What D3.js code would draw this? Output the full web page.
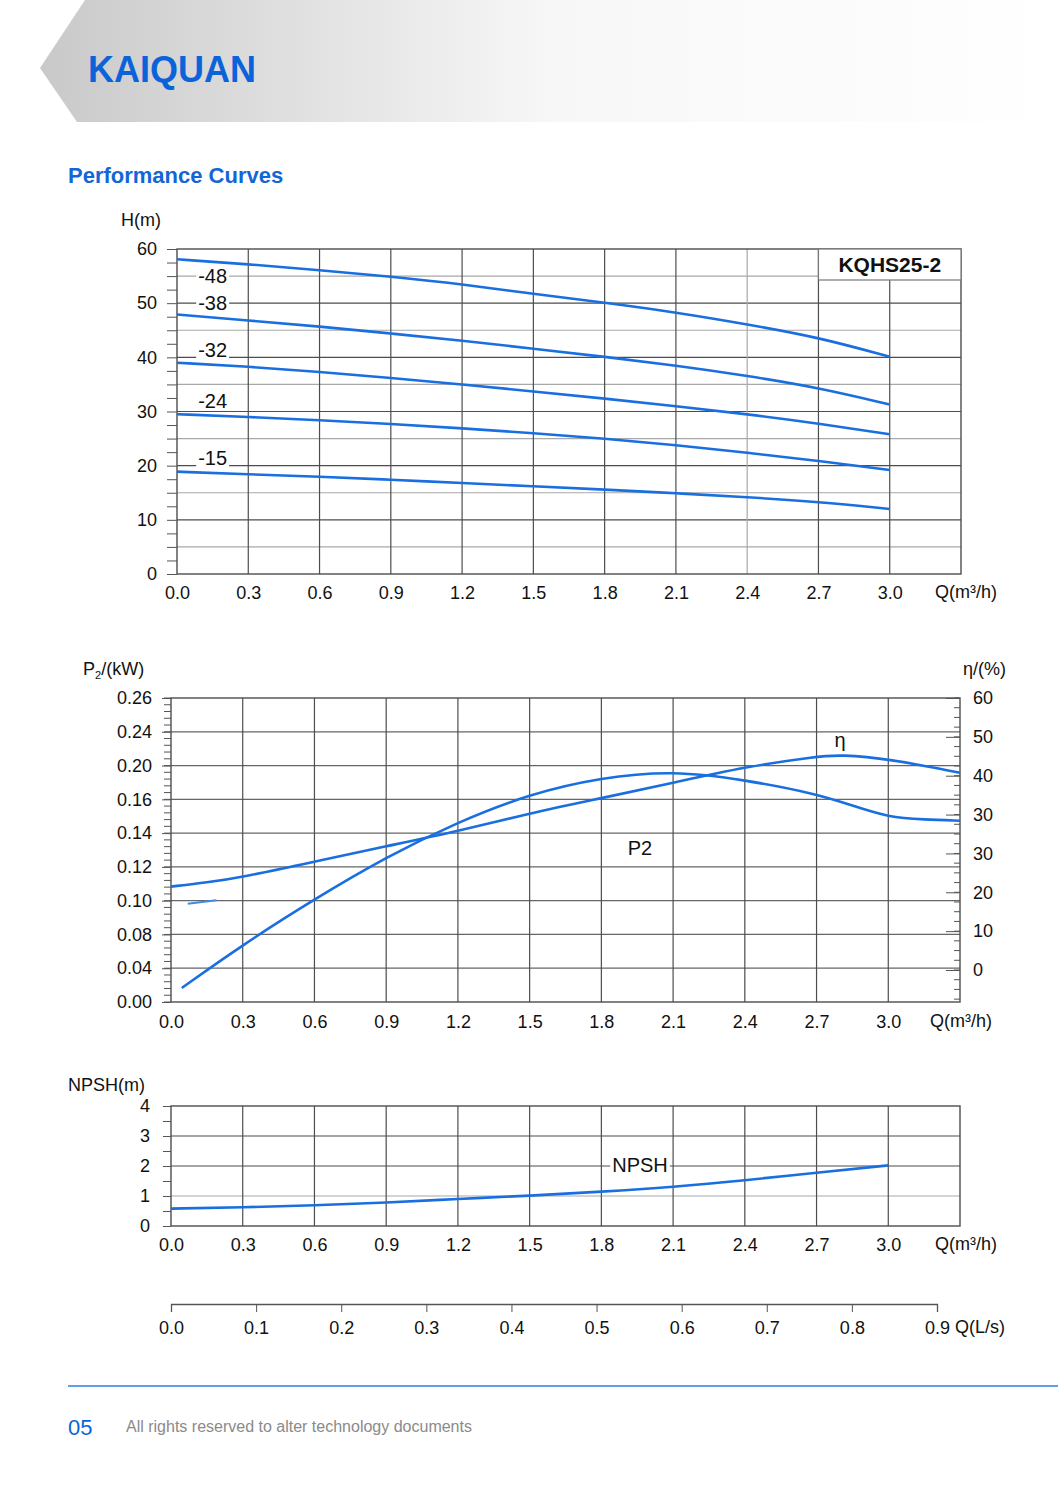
<!DOCTYPE html>
<html>
<head>
<meta charset="utf-8">
<script src="https://cdn.jsdelivr.net/npm/d3@7"></script>
<style>
  body { margin: 0; background: #fff; }
  svg { display: block; }
  text { font-family: "Liberation Sans", Arial, sans-serif; fill: #111; }
</style>
</head>
<body>
<div id="page"></div>
<script>
// flow values on the Q axis (m3/h)
const flowTicks = [0, 0.3, 0.6, 0.9, 1.2, 1.5, 1.8, 2.1, 2.4, 2.7, 3.0];

// head curves H(Q), one per stage count
const headQ = [0, 0.3, 0.6, 0.9, 1.2, 1.5, 1.8, 2.1, 2.4, 2.7, 3.0];
const head48 = [58.1, 57.2, 56.1, 54.9, 53.5, 51.7, 50.1, 48.3, 46.1, 43.7, 40.1];
const head38 = [47.9, 46.8, 45.7, 44.4, 43.1, 41.6, 40.1, 38.5, 36.6, 34.4, 31.3];
const head32 = [39.0, 38.3, 37.3, 36.2, 35.0, 33.7, 32.4, 31.0, 29.5, 27.8, 25.8];
const head24 = [29.5, 29.0, 28.4, 27.7, 26.9, 26.0, 25.0, 23.8, 22.4, 20.9, 19.2];
const head15 = [18.9, 18.4, 18.0, 17.4, 16.8, 16.2, 15.6, 14.9, 14.2, 13.3, 12.0];
const stageLabels = ["-48", "-38", "-32", "-24", "-15"];
const headTicks = [0, 10, 20, 30, 40, 50, 60];
const modelName = "KQHS25-2";

// power / efficiency
const etaQ = [0, 0.15, 0.3, 0.6, 0.9, 1.2, 1.5, 1.8, 2.1, 2.4, 2.7, 2.8, 3.0, 3.3];
const etaValues = [18.4, 19.3, 20.5, 23.9, 27.3, 30.6, 34.6, 37.9, 41.3, 44.8, 47.1, 47.5, 46.6, 43.5];
const p2Q = [0.045, 0.3, 0.6, 0.9, 1.2, 1.5, 1.8, 2.1, 2.4, 2.7, 2.85, 3.0, 3.15, 3.3];
const p2Values = [0.012, 0.049, 0.088, 0.124, 0.154, 0.178, 0.192, 0.198, 0.190, 0.178, 0.168, 0.158, 0.156, 0.155];
const p2StubQ = [0.07, 0.19];
const p2StubValues = [0.084, 0.087];
const p2TickLabels = ["0.00", "0.04", "0.08", "0.10", "0.12", "0.14", "0.16", "0.20", "0.24", "0.26"];
const etaTickLabels = ["0", "10", "20", "30", "30", "40", "50", "60"];

// NPSH
const npshQ = [0, 0.3, 0.6, 0.9, 1.2, 1.5, 1.8, 2.1, 2.4, 2.7, 3.0];
const npshValues = [0.58, 0.62, 0.69, 0.78, 0.90, 1.01, 1.14, 1.30, 1.52, 1.78, 2.02];
const npshTicks = [0, 1, 2, 3, 4];

// flow in L/s
const litreTicks = [0, 0.1, 0.2, 0.3, 0.4, 0.5, 0.6, 0.7, 0.8, 0.9];

const W = 1058, H = 1487;
const blue = "#1a6fe0";
const gridDark = "#4d4d4d";
const gridLight = "#a8a8a8";

const svg = d3.select("#page").append("svg").attr("width", W).attr("height", H);
svg.append("rect").attr("width", W).attr("height", H).attr("fill", "#fff");

// ---- header band
const grad = svg.append("defs").append("linearGradient").attr("id", "band").attr("x1", "0").attr("x2", "1");
grad.append("stop").attr("offset", "0").attr("stop-color", "#c9c9c9");
grad.append("stop").attr("offset", "0.25").attr("stop-color", "#e0e0e0");
grad.append("stop").attr("offset", "0.5").attr("stop-color", "#f7f7f7");
grad.append("stop").attr("offset", "1").attr("stop-color", "#ffffff");
svg.append("path").attr("d", "M85,0 L1058,0 L1058,122 L77,122 L40,68 Z").attr("fill", "url(#band)");
svg.append("text").attr("x", 88).attr("y", 82).attr("font-size", 36).attr("font-weight", "bold")
  .style("fill", "#0b63d9").text("KAIQUAN");
svg.append("text").attr("x", 68).attr("y", 183).attr("font-size", 22).attr("font-weight", "bold")
  .style("fill", "#1366d6").text("Performance Curves");

function styleAxis(g, size) {
  g.select(".domain").remove();
  g.selectAll("line").attr("stroke", "#555");
  g.selectAll("text").attr("font-size", size).attr("font-family", null).style("fill", "#111");
}

function labelWithBox(g, x, y, txt, size, weight) {
  const t = g.append("text").attr("x", x).attr("y", y).attr("text-anchor", "middle")
    .attr("font-size", size).attr("font-weight", weight || "normal").text(txt);
  const b = t.node().getBBox();
  g.insert("rect", () => t.node()).attr("x", b.x - 2).attr("y", b.y + 1).attr("width", b.width + 4)
    .attr("height", b.height - 2).attr("fill", "#fff");
  return t;
}

// ---- head chart
const hx = d3.scaleLinear().domain([0, 3.3]).range([177, 961]);
const hy = d3.scaleLinear().domain([0, 60]).range([574, 249]);
const hg = svg.append("g");

hg.selectAll("line.hgrid").data(d3.range(5, 60, 5)).join("line")
  .attr("x1", hx(0)).attr("x2", hx(3.3)).attr("y1", d => hy(d)).attr("y2", d => hy(d))
  .attr("stroke", d => d % 10 === 0 ? gridDark : gridLight).attr("stroke-width", 1.2);
hg.selectAll("line.vgrid").data(flowTicks.slice(1)).join("line")
  .attr("x1", d => hx(d)).attr("x2", d => hx(d)).attr("y1", hy(0)).attr("y2", hy(60))
  .attr("stroke", (d, i) => i === 7 ? gridLight : gridDark).attr("stroke-width", 1.2);
hg.append("rect").attr("x", hx(0)).attr("y", hy(60)).attr("width", hx(3.3) - hx(0)).attr("height", hy(0) - hy(60))
  .attr("fill", "none").attr("stroke", gridDark).attr("stroke-width", 1.4);

hg.append("g").attr("transform", `translate(${hx(0)},0)`)
  .call(d3.axisLeft(hy).tickValues(d3.range(0, 60.1, 2.5)).tickSize(10).tickPadding(10)
    .tickFormat(d => headTicks.includes(d) ? d : ""))
  .call(g => styleAxis(g, 18));
hg.append("g").attr("transform", `translate(0,${hy(0)})`)
  .call(d3.axisBottom(hx).tickValues(flowTicks).tickSize(0).tickPadding(12).tickFormat(d3.format(".1f")))
  .call(g => styleAxis(g, 18));
hg.append("text").attr("x", 141).attr("y", 226).attr("text-anchor", "middle").attr("font-size", 18).text("H(m)");
hg.append("text").attr("x", 935).attr("y", 598).attr("font-size", 18).text("Q(m³/h)");

// model box
hg.append("rect").attr("x", hx(2.7)).attr("y", hy(60)).attr("width", hx(3.3) - hx(2.7)).attr("height", 31)
  .attr("fill", "#fff").attr("stroke", "#777").attr("stroke-width", 1.2);
hg.append("text").attr("x", (hx(2.7) + hx(3.3)) / 2).attr("y", hy(60) + 23).attr("text-anchor", "middle")
  .attr("font-size", 21).attr("font-weight", "bold").text(modelName);

const headSeries = [head48, head38, head32, head24, head15];
const headLine = d3.line().x((d, i) => hx(headQ[i])).y(d => hy(d)).curve(d3.curveBasis);
hg.selectAll("path.head").data(headSeries).join("path")
  .attr("d", headLine).attr("fill", "none").attr("stroke", blue).attr("stroke-width", 2.6);
headSeries.forEach((s, i) => {
  const yAt = hy(d3.mean(s.slice(0, 2)));
  labelWithBox(hg, hx(0.15), i === 0 ? yAt + 21 : yAt - 8, stageLabels[i], 20);
});

// ---- power / efficiency chart
const mx = d3.scaleLinear().domain([0, 3.3]).range([171, 960]);
const my = d3.scaleLinear().domain([0, 0.26]).range([1002, 698]);
const ey = d3.scaleLinear().domain([0, 60]).range([970, 698]);
const pLab = d3.scalePoint().domain(d3.range(p2TickLabels.length)).range([my(0), my(0.26)]);
const eLab = d3.scalePoint().domain(d3.range(etaTickLabels.length)).range([ey(0), ey(60)]);
const mg = svg.append("g");

mg.selectAll("line.hgrid").data(d3.range(1, p2TickLabels.length - 1)).join("line")
  .attr("x1", mx(0)).attr("x2", mx(3.3)).attr("y1", d => pLab(d)).attr("y2", d => pLab(d))
  .attr("stroke", "#666").attr("stroke-width", 1.2);
mg.selectAll("line.vgrid").data(flowTicks.slice(1)).join("line")
  .attr("x1", d => mx(d)).attr("x2", d => mx(d)).attr("y1", my(0)).attr("y2", my(0.26))
  .attr("stroke", gridDark).attr("stroke-width", 1.2);
mg.append("rect").attr("x", mx(0)).attr("y", my(0.26)).attr("width", mx(3.3) - mx(0)).attr("height", my(0) - my(0.26))
  .attr("fill", "none").attr("stroke", gridDark).attr("stroke-width", 1.4);

// left axis: labelled ticks plus five-way minor ticks
const pStep = pLab.step();
mg.selectAll("line.pminor").data(d3.range(0, (p2TickLabels.length - 1) * 5 + 1)).join("line")
  .attr("x1", mx(0) - 7).attr("x2", mx(0)).attr("y1", d => my(0) - d * pStep / 5).attr("y2", d => my(0) - d * pStep / 5)
  .attr("stroke", "#555");
mg.append("g").attr("transform", `translate(${mx(0)},0)`)
  .call(d3.axisLeft(pLab).tickSize(9).tickPadding(10).tickFormat(i => p2TickLabels[i]))
  .call(g => styleAxis(g, 18));

// right axis: ticks drawn inward
const eStep = eLab.step();
mg.selectAll("line.eminor").data(d3.range(-3, (etaTickLabels.length - 1) * 4 + 1)).join("line")
  .attr("x1", mx(3.3) - 6).attr("x2", mx(3.3)).attr("y1", d => ey(0) - d * eStep / 4).attr("y2", d => ey(0) - d * eStep / 4)
  .attr("stroke", "#555");
mg.append("g").attr("transform", `translate(${mx(3.3)},0)`)
  .call(d3.axisRight(eLab).tickSize(-14).tickPadding(13).tickFormat(i => etaTickLabels[i]))
  .call(g => styleAxis(g, 18));

mg.append("g").attr("transform", `translate(0,${my(0)})`)
  .call(d3.axisBottom(mx).tickValues(flowTicks).tickSize(0).tickPadding(13).tickFormat(d3.format(".1f")))
  .call(g => styleAxis(g, 18));

const p2Title = mg.append("text").attr("x", 83).attr("y", 675).attr("font-size", 18);
p2Title.append("tspan").text("P");
p2Title.append("tspan").attr("font-size", 11).attr("dy", 4).text("2");
p2Title.append("tspan").attr("dy", -4).text("/(kW)");
mg.append("text").attr("x", 963).attr("y", 675).attr("font-size", 18).text("η/(%)");
mg.append("text").attr("x", 930).attr("y", 1027).attr("font-size", 18).text("Q(m³/h)");

const etaLine = d3.line().x((d, i) => mx(etaQ[i])).y(d => ey(d)).curve(d3.curveBasis);
const p2Line = d3.line().x((d, i) => mx(p2Q[i])).y(d => my(d)).curve(d3.curveBasis);
const p2StubLine = d3.line().x((d, i) => mx(p2StubQ[i])).y(d => my(d));
mg.append("path").attr("d", etaLine(etaValues)).attr("fill", "none").attr("stroke", blue).attr("stroke-width", 2.6);
mg.append("path").attr("d", p2Line(p2Values)).attr("fill", "none").attr("stroke", blue).attr("stroke-width", 2.6);
mg.append("path").attr("d", p2StubLine(p2StubValues)).attr("fill", "none").attr("stroke", "#3d8ae8").attr("stroke-width", 2);
labelWithBox(mg, 640, 855, "P2", 20);
mg.append("text").attr("x", 840).attr("y", 747).attr("text-anchor", "middle").attr("font-size", 20).text("η");

// ---- NPSH chart
const nx = d3.scaleLinear().domain([0, 3.3]).range([171, 960]);
const ny = d3.scaleLinear().domain([0, 4]).range([1226, 1106]);
const ng = svg.append("g");

ng.selectAll("line.hgrid").data([1, 2, 3]).join("line")
  .attr("x1", nx(0)).attr("x2", nx(3.3)).attr("y1", d => ny(d)).attr("y2", d => ny(d))
  .attr("stroke", d => d === 1 ? gridLight : gridDark).attr("stroke-width", 1.2);
ng.selectAll("line.vgrid").data(flowTicks.slice(1)).join("line")
  .attr("x1", d => nx(d)).attr("x2", d => nx(d)).attr("y1", ny(0)).attr("y2", ny(4))
  .attr("stroke", gridDark).attr("stroke-width", 1.2);
ng.append("rect").attr("x", nx(0)).attr("y", ny(4)).attr("width", nx(3.3) - nx(0)).attr("height", ny(0) - ny(4))
  .attr("fill", "none").attr("stroke", gridDark).attr("stroke-width", 1.4);

ng.append("g").attr("transform", `translate(${nx(0)},0)`)
  .call(d3.axisLeft(ny).tickValues(d3.range(0, 4.1, 0.5)).tickSize(8).tickPadding(13)
    .tickFormat(d => npshTicks.includes(d) ? d : ""))
  .call(g => styleAxis(g, 18));
ng.append("g").attr("transform", `translate(0,${ny(0)})`)
  .call(d3.axisBottom(nx).tickValues(flowTicks).tickSize(0).tickPadding(12).tickFormat(d3.format(".1f")))
  .call(g => styleAxis(g, 18));
ng.append("text").attr("x", 68).attr("y", 1091).attr("font-size", 18).text("NPSH(m)");
ng.append("text").attr("x", 935).attr("y", 1250).attr("font-size", 18).text("Q(m³/h)");

const npshLine = d3.line().x((d, i) => nx(npshQ[i])).y(d => ny(d)).curve(d3.curveBasis);
ng.append("path").attr("d", npshLine(npshValues)).attr("fill", "none").attr("stroke", blue).attr("stroke-width", 2.6);
labelWithBox(ng, 640, 1172, "NPSH", 20);

// ---- L/s axis
const lx = d3.scaleLinear().domain([0, 0.9]).range([171, 937]);
svg.append("g").attr("transform", "translate(0,1304)")
  .call(d3.axisBottom(lx).tickValues(litreTicks).tickSize(8).tickPadding(9).tickFormat(d3.format(".1f")))
  .call(g => {
    g.select(".domain").attr("stroke", "#555").attr("stroke-width", 1.3);
    g.selectAll("line").attr("stroke", "#555");
    g.selectAll("text").attr("font-size", 18).attr("font-family", null).style("fill", "#111");
  });
svg.append("text").attr("x", 955).attr("y", 1333).attr("font-size", 18).text("Q(L/s)");

// ---- footer
svg.append("line").attr("x1", 68).attr("x2", W).attr("y1", 1386).attr("y2", 1386)
  .attr("stroke", "#2c7fe3").attr("stroke-width", 1.6);
svg.append("text").attr("x", 68).attr("y", 1435).attr("font-size", 22).style("fill", "#0b63d9").text("05");
svg.append("text").attr("x", 126).attr("y", 1432).attr("font-size", 16).style("fill", "#8a8a8a")
  .text("All rights reserved to alter technology documents");
</script>
</body>
</html>
